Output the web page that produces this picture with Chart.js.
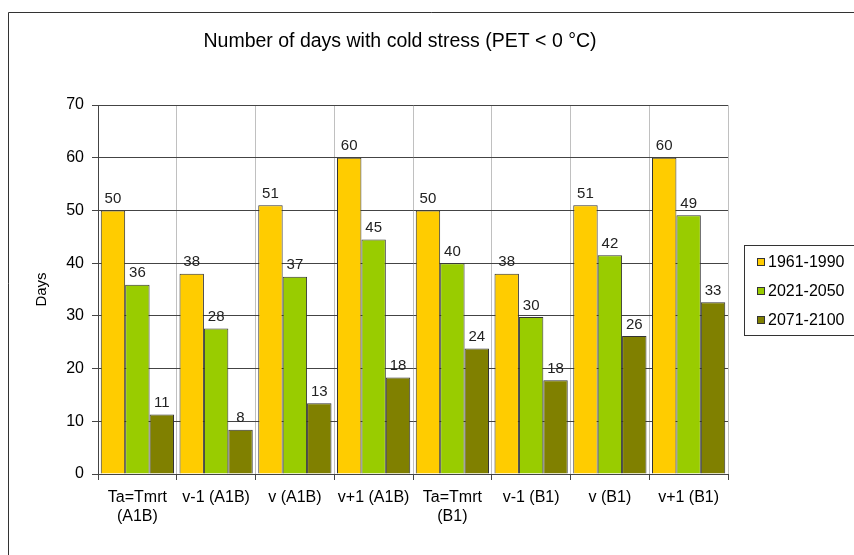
<!DOCTYPE html>
<html>
<head>
<meta charset="utf-8">
<script src="https://cdn.jsdelivr.net/npm/chart.js@4"></script>
<style>
html,body{margin:0;padding:0;background:#fff;}
#wrap{width:854px;height:555px;position:relative;overflow:hidden;}
</style>
</head>
<body>
<div id="wrap"><canvas id="c" width="854" height="555"></canvas></div>
<script>
const chartTitle = 'Number of days with cold stress (PET < 0 °C)';
const yAxisTitle = 'Days';
const categories = [['Ta=Tmrt', '(A1B)'], 'v-1 (A1B)', 'v (A1B)', 'v+1 (A1B)', ['Ta=Tmrt', '(B1)'], 'v-1 (B1)', 'v (B1)', 'v+1 (B1)'];
const seriesNames = ['1961-1990', '2021-2050', '2071-2100'];
const values1961 = [50, 38, 51, 60, 50, 38, 51, 60];
const values2021 = [35.9, 27.6, 37.4, 44.5, 40.0, 29.8, 41.5, 49.1];
const values2071 = [11.3, 8.4, 13.4, 18.3, 23.8, 17.8, 26.2, 32.6];
const yTicks = [0, 10, 20, 30, 40, 50, 60, 70];
const seriesColors = ['#FFCC00', '#99CC00', '#808000'];

const FONT = "'Liberation Sans', Arial, sans-serif";

const framePlugin = {
  id: 'frame',
  beforeDraw(chart) {
    const ctx = chart.ctx;
    ctx.save();
    ctx.fillStyle = '#fff';
    ctx.fillRect(0, 0, chart.width, chart.height);
    ctx.strokeStyle = '#333';
    ctx.lineWidth = 1;
    ctx.beginPath();
    ctx.moveTo(8.5, chart.height);
    ctx.lineTo(8.5, 12.5);
    ctx.lineTo(chart.width, 12.5);
    ctx.stroke();
    ctx.restore();
  }
};

const titlePlugin = {
  id: 'customTitle',
  afterDraw(chart) {
    const ctx = chart.ctx;
    ctx.save();
    ctx.font = '19.5px ' + FONT;
    ctx.fillStyle = '#000';
    ctx.textAlign = 'center';
    ctx.textBaseline = 'middle';
    ctx.fillText(chartTitle, 400, 42);
    ctx.restore();
  }
};

const valueLabelPlugin = {
  id: 'valueLabels',
  afterDatasetsDraw(chart) {
    const ctx = chart.ctx;
    ctx.save();
    ctx.font = '15px ' + FONT;
    ctx.fillStyle = '#222';
    ctx.textAlign = 'center';
    ctx.textBaseline = 'bottom';
    chart.data.datasets.forEach((ds, i) => {
      const meta = chart.getDatasetMeta(i);
      meta.data.forEach((el, j) => {
        ctx.fillText(String(Math.round(ds.data[j])), el.x, el.y - 4);
      });
    });
    ctx.restore();
  }
};

const legendPlugin = {
  id: 'customLegend',
  afterDraw(chart) {
    const ctx = chart.ctx;
    const bx = 744.5, by = 245.5, bw = 115, bh = 90;
    ctx.save();
    ctx.strokeStyle = '#333';
    ctx.lineWidth = 1;
    ctx.strokeRect(bx, by, bw, bh);
    ctx.font = '16px ' + FONT;
    ctx.textBaseline = 'middle';
    ctx.textAlign = 'left';
    chart.data.datasets.forEach((ds, i) => {
      const cy = 262 + i * 29;
      ctx.fillStyle = ds.backgroundColor;
      ctx.fillRect(757, cy - 3.5, 7, 7);
      ctx.strokeStyle = '#333';
      ctx.strokeRect(757.5, cy - 3.5, 7, 7);
      ctx.fillStyle = '#000';
      ctx.fillText(ds.label, 768, cy + 1);
    });
    ctx.restore();
  }
};

const seriesValues = [values1961, values2021, values2071];

new Chart(document.getElementById('c'), {
  type: 'bar',
  data: {
    labels: categories,
    datasets: seriesNames.map((name, i) => ({
      label: name,
      data: seriesValues[i],
      backgroundColor: seriesColors[i],
      borderColor: '#333',
      borderWidth: 1,
      categoryPercentage: 0.93,
      barPercentage: 1.0
    }))
  },
  options: {
    responsive: false,
    animation: false,
    devicePixelRatio: 1,
    layout: { padding: { left: 30, top: 105, right: 126, bottom: 0 } },
    plugins: {
      legend: { display: false },
      title: { display: false },
      tooltip: { enabled: false }
    },
    scales: {
      x: {
        grid: { color: '#c0c0c0', tickColor: '#444', tickLength: 6, offset: true },
        border: { color: '#444' },
        ticks: {
          font: { family: FONT, size: 16, lineHeight: 1.2 },
          color: '#000',
          padding: 8,
          maxRotation: 0,
          autoSkip: false
        },
        afterFit(scale) { scale.height = 81; }
      },
      y: {
        min: 0,
        max: 70,
        afterBuildTicks(scale) { scale.ticks = yTicks.map(v => ({ value: v })); },
        ticks: { font: { family: FONT, size: 16 }, color: '#000', padding: 8 },
        grid: { color: '#444', tickColor: '#444', tickLength: 6 },
        border: { color: '#444' },
        title: {
          display: true,
          text: yAxisTitle,
          font: { family: FONT, size: 15 },
          color: '#000',
          padding: { top: 3, bottom: 0 }
        },
        afterFit(scale) { scale.width = 68; }
      }
    }
  },
  plugins: [framePlugin, titlePlugin, valueLabelPlugin, legendPlugin]
});
</script>
</body>
</html>
